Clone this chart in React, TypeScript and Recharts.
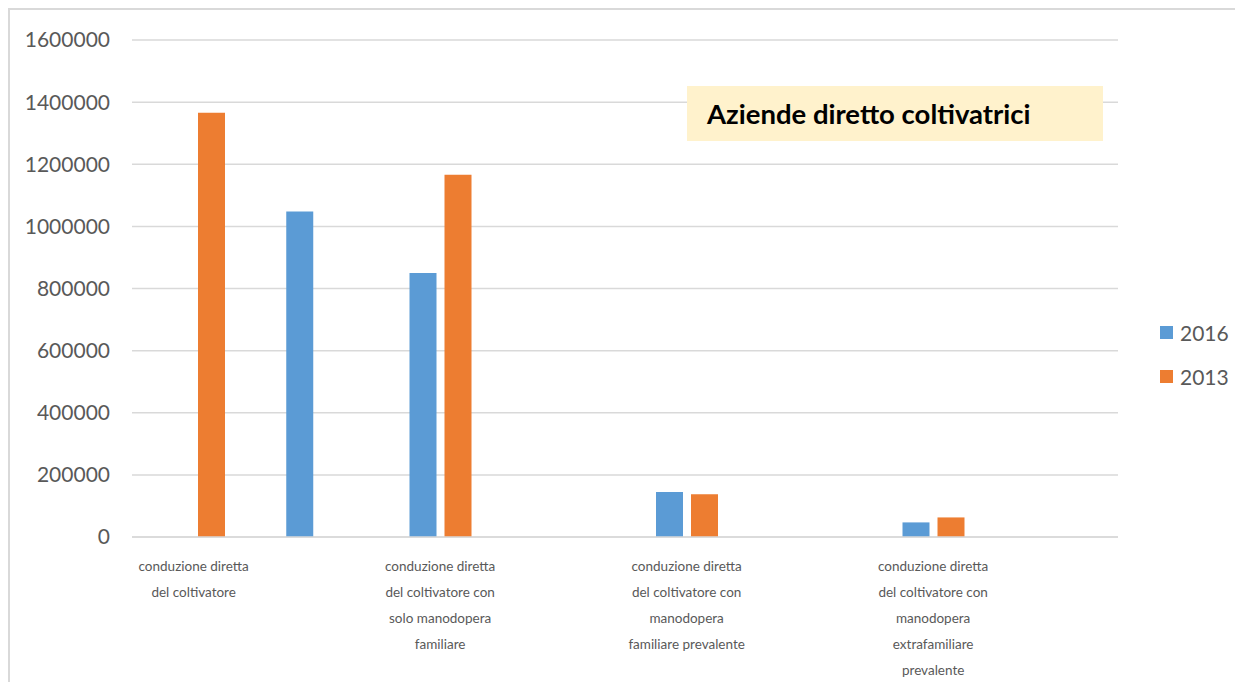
import { BarChart, Bar, XAxis, YAxis, CartesianGrid, Legend } from "recharts";

// categorie (le fasce vuote servono a riprodurre la spaziatura del grafico originale)
const categorie = [
  "conduzione diretta\ndel coltivatore",
  "",
  "conduzione diretta\ndel coltivatore con\nsolo manodopera\nfamiliare",
  "",
  "conduzione diretta\ndel coltivatore con\nmanodopera\nfamiliare prevalente",
  "",
  "conduzione diretta\ndel coltivatore con\nmanodopera\nextrafamiliare\nprevalente",
  "",
];

const valori2016 = [null, 1048000, 850000, null, 145000, null, 47000, null];
const valori2013 = [1366000, null, 1166000, null, 138000, null, 63000, null];

const yTicks = [0, 200000, 400000, 600000, 800000, 1000000, 1200000, 1400000, 1600000];

const ordineLegenda = ["2016", "2013"];

const data = categorie.map((categoria, i) => ({
  categoria,
  v2016: valori2016[i],
  v2013: valori2013[i],
}));

const FONT = "Lato, 'Open Sans', sans-serif";
const GREY = "#595959";

function CategoryTick(props: any) {
  const { x, y, payload } = props;
  const lines: string[] = String(payload.value || "").split("\n").filter((l) => l);
  return (
    <g transform={`translate(${x},${y})`}>
      {lines.map((line, i) => (
        <text
          key={i}
          x={0}
          y={21 + i * 26}
          textAnchor="middle"
          dominantBaseline="central"
          fill={GREY}
          fontSize={13.5}
          fontFamily={FONT}
        >
          {line}
        </text>
      ))}
    </g>
  );
}

function LegendContent(props: any) {
  const items = [...(props.payload || [])].sort(
    (a: any, b: any) => ordineLegenda.indexOf(a.value) - ordineLegenda.indexOf(b.value)
  );
  return (
    <div style={{ fontFamily: FONT }}>
      {items.map((entry: any) => (
        <div key={entry.value} style={{ display: "flex", alignItems: "center", height: 44 }}>
          <span style={{ width: 13, height: 13, background: entry.color, marginRight: 7 }} />
          <span style={{ fontSize: 21, color: GREY }}>{entry.value}</span>
        </div>
      ))}
    </div>
  );
}

export default function App() {
  return (
    <div
      style={{
        position: "relative",
        width: 1227,
        height: 674,
        boxSizing: "border-box",
        borderLeft: "2px solid #d9d9d9",
        borderTop: "2px solid #d9d9d9",
        background: "#fff",
      }}
    >
      <BarChart
        width={1225}
        height={672}
        data={data}
        margin={{ top: 30, right: 117, bottom: 0, left: 0 }}
        barSize={27}
        barGap={8}
      >
        <CartesianGrid vertical={false} stroke="#d9d9d9" strokeWidth={1.5} />
        <XAxis
          dataKey="categoria"
          interval={0}
          height={145}
          tickLine={false}
          axisLine={{ stroke: "#d9d9d9", strokeWidth: 1.5 }}
          tick={<CategoryTick />}
        />
        <YAxis
          width={122}
          domain={[0, 1600000]}
          ticks={yTicks}
          interval={0}
          axisLine={false}
          tickLine={false}
          tickMargin={16}
          tick={{ fill: GREY, fontSize: 21, fontFamily: FONT }}
        />
        <Legend
          layout="vertical"
          align="center"
          verticalAlign="middle"
          wrapperStyle={{ left: 1150, top: 300, width: 90 }}
          content={<LegendContent />}
        />
        <Bar dataKey="v2016" name="2016" fill="#5b9bd5" isAnimationActive={false} />
        <Bar dataKey="v2013" name="2013" fill="#ed7d31" isAnimationActive={false} />
      </BarChart>
      <div
        style={{
          position: "absolute",
          left: 677,
          top: 76,
          width: 416,
          height: 55,
          background: "#fff2cc",
          display: "flex",
          alignItems: "center",
          paddingLeft: 20,
          boxSizing: "border-box",
          fontFamily: FONT,
          fontWeight: 700,
          fontSize: 27.5,
          color: "#000",
        }}
      >
        Aziende diretto coltivatrici
      </div>
    </div>
  );
}
